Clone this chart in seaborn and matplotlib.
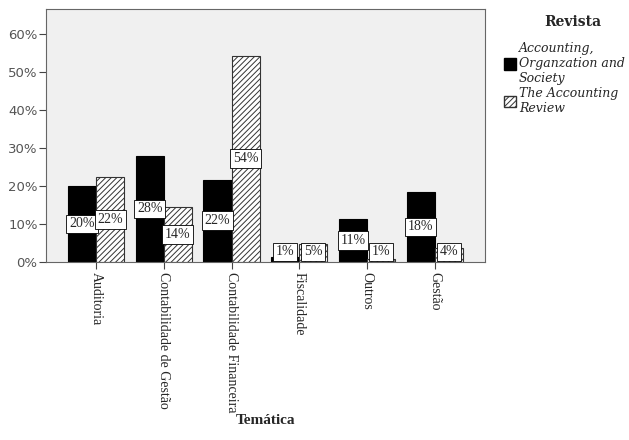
import matplotlib
matplotlib.use("Agg")
import matplotlib.pyplot as plt
import seaborn as sns
import pandas as pd
from matplotlib.patches import Patch

categories = ["Auditoria", "Contabilidade de Gestão", "Contabilidade Financeira",
              "Fiscalidade", "Outros", "Gestão"]
series_names = ["Accounting, Organzation and Society", "The Accounting Review"]
aos_values = [20.0, 27.8, 21.6, 1.2, 11.2, 18.4]
tar_values = [22.2, 14.4, 54.3, 4.6, 0.8, 3.6]
aos_labels = ["20%", "28%", "22%", "1%", "11%", "18%"]
tar_labels = ["22%", "14%", "54%", "5%", "1%", "4%"]
yticks = [0, 10, 20, 30, 40, 50, 60]
ytick_labels = ["0%", "10%", "20%", "30%", "40%", "50%", "60%"]

df = pd.DataFrame({
    "Temática": categories * 2,
    "Revista": [series_names[0]] * 6 + [series_names[1]] * 6,
    "valor": aos_values + tar_values,
})

sns.set_style("white")
plt.rcParams["font.family"] = ["Liberation Serif", "DejaVu Serif"]
plt.rcParams["hatch.linewidth"] = 0.7

fig = plt.figure(figsize=(6.29, 4.40), dpi=100)
ax = fig.add_axes([0.073, 0.405, 0.698, 0.575])
ax.set_facecolor("#f0f0f0")

sns.barplot(data=df, x="Temática", y="valor", hue="Revista", order=categories,
            hue_order=series_names, palette=["black", "white"], edgecolor="black",
            linewidth=0.8, width=0.83, legend=False, ax=ax, saturation=1)

for bar in ax.containers[1]:
    bar.set_hatch("//////")
    bar.set_edgecolor("#333333")

for cont, labs in zip(ax.containers, [aos_labels, tar_labels]):
    for bar, lab in zip(cont, labs):
        h = bar.get_height()
        xc = bar.get_x() + bar.get_width() / 2
        yc = max(h / 2, 2.6)
        ax.text(xc, yc, lab, ha="center", va="center", fontsize=10,
                family="Liberation Serif",
                bbox=dict(boxstyle="square,pad=0.2", facecolor="white",
                          edgecolor="black", linewidth=0.6))

ax.set_xlim(-0.74, 5.74)
ax.set_ylim(0, 66.6)
ax.set_yticks(yticks)
ax.set_yticklabels(ytick_labels, family="DejaVu Sans", fontsize=9.5, color="#555555")
ax.set_xticks(range(len(categories)))
ax.set_xticklabels(categories, rotation=270, fontsize=10, va="top", ha="center")
ax.tick_params(axis="both", direction="out", length=5, width=0.8, color="#444444",
               bottom=True, left=True)
ax.tick_params(axis="x", pad=2)
ax.tick_params(axis="y", pad=1)
for s in ax.spines.values():
    s.set_color("#666666")
    s.set_linewidth(0.8)
ax.set_ylabel("")
ax.set_xlabel("Temática", fontsize=11, fontweight="bold", labelpad=8)
ax.xaxis.set_label_coords(0.5, -0.6)

fig.text(573 / 629, 1 - 22 / 440, "Revista", ha="center", va="center",
         fontsize=10, fontweight="bold", family="DejaVu Serif")

handles = [Patch(facecolor="black", edgecolor="black"),
           Patch(facecolor="white", edgecolor="#333333", hatch="//////")]
leg_labels = ["Accounting,\nOrganzation and\nSociety", "The Accounting\nReview"]
leg = fig.legend(handles, leg_labels, loc="upper left",
                 bbox_to_anchor=(0.787, 0.925), frameon=False,
                 prop={"family": "DejaVu Serif", "style": "italic", "size": 9},
                 handlelength=1.0, handleheight=1.0, handletextpad=0.2,
                 labelspacing=0.15, borderpad=0.2)

fig.savefig("out.png", dpi=100)
